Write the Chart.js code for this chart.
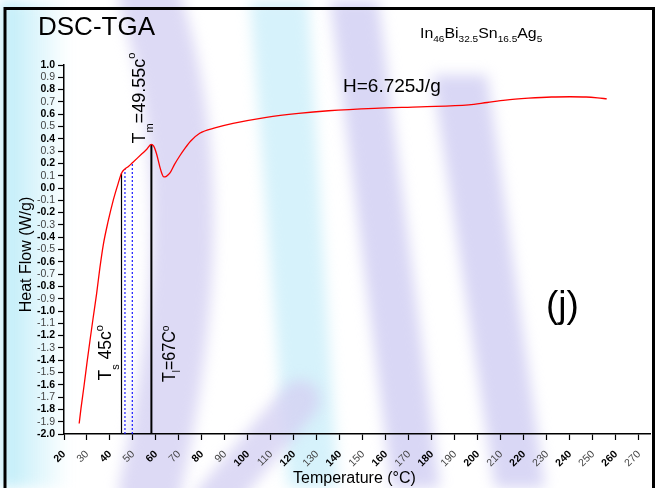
<!DOCTYPE html>
<html>
<head>
<meta charset="utf-8">
<script src="https://cdn.jsdelivr.net/npm/chart.js@4.4.0/dist/chart.umd.min.js"></script>
<style>
  html, body { margin: 0; padding: 0; background: #fff; }
  #c { display: block; }
</style>
</head>
<body>
<canvas id="c" width="656" height="488"></canvas>
<script>
// DSC curve: temperature (°C) and heat flow (W/g)
var tempC = [26.6, 27.4, 28.7, 30.0, 31.3, 32.6, 34.2, 35.6, 37.1, 39.2, 41.4, 43.6, 45.0, 46.5, 48.0,
    50.0, 52.0, 54.0, 56.0, 57.9, 59.0, 60.2, 61.7, 62.6, 63.4, 64.5, 66.0, 68.0, 70.3, 72.5,
    75.0, 79.0, 86.0, 93.5, 108, 122, 135, 155, 175, 196, 204, 212, 222, 232, 240, 247, 252, 256];
var heatFlow = [-1.915, -1.79, -1.61, -1.42, -1.24, -1.065, -0.856, -0.65, -0.46, -0.27, -0.10, 0.04, 0.12, 0.155, 0.175,
    0.21, 0.245, 0.28, 0.315, 0.355, 0.34, 0.28, 0.17, 0.115, 0.09, 0.095, 0.12, 0.19, 0.26, 0.32,
    0.38, 0.445, 0.49, 0.525, 0.575, 0.607, 0.628, 0.648, 0.66, 0.675, 0.695, 0.715, 0.73, 0.74, 0.742, 0.74, 0.733, 0.725];

// vertical markers: solidus, two dotted guides, melting peak
var markerTemps = [45.0, 46.5, 49.7, 58.0];
var markerTops = [0.12, 0.155, 0.205, 0.355];
var markerBase = -2.0;

var xTicks = [20, 30, 40, 50, 60, 70, 80, 90, 100, 110, 120, 130, 140, 150, 160, 170, 180, 190, 200, 210, 220, 230, 240, 250, 260, 270];
var yTicks = [-2.0, -1.9, -1.8, -1.7, -1.6, -1.5, -1.4, -1.3, -1.2, -1.1, -1.0, -0.9, -0.8, -0.7, -0.6, -0.5, -0.4, -0.3, -0.2, -0.1,
    0.0, 0.1, 0.2, 0.3, 0.4, 0.5, 0.6, 0.7, 0.8, 0.9, 1.0];

var FONT = 'Arial, "Liberation Sans", sans-serif';

function pts(xs, ys) {
    return xs.map(function (x, i) { return { x: x, y: ys[i] }; });
}

function markerLine(i, color, width, dash) {
    return {
        data: [{ x: markerTemps[i], y: markerBase }, { x: markerTemps[i], y: markerTops[i] }],
        borderColor: color, borderWidth: width, borderDash: dash, pointRadius: 0, tension: 0
    };
}

function richText(ctx, x, y, angle, sx, parts) {
    ctx.save();
    ctx.translate(x, y);
    ctx.rotate(angle);
    ctx.scale(sx, 1);
    ctx.textAlign = 'left';
    ctx.textBaseline = 'alphabetic';
    ctx.fillStyle = '#000';
    var cx = 0;
    parts.forEach(function (p) {
        ctx.font = p.s + 'px ' + FONT;
        ctx.fillText(p.t, cx, p.dy || 0);
        cx += ctx.measureText(p.t).width;
    });
    ctx.restore();
}

function poly(ctx, p, color) {
    ctx.fillStyle = color;
    ctx.beginPath();
    ctx.moveTo(p[0][0], p[0][1]);
    for (var i = 1; i < p.length; i++) ctx.lineTo(p[i][0], p[i][1]);
    ctx.closePath();
    ctx.fill();
}

// faint watermark that sits behind the original figure
var backdrop = {
    id: 'backdrop',
    beforeDraw: function (chart) {
        var ctx = chart.ctx;
        ctx.save();
        ctx.fillStyle = '#fff';
        ctx.fillRect(0, 0, chart.width, chart.height);
        ctx.filter = 'blur(7px)';
        var g = ctx.createLinearGradient(5, 0, 70, 0);
        g.addColorStop(0, 'rgba(185,235,248,0.9)');
        g.addColorStop(1, 'rgba(185,235,248,0)');
        ctx.fillStyle = g;
        ctx.fillRect(0, 0, 70, 488);
        poly(ctx, [[250, 0], [308, 0], [338, 488], [288, 488]], 'rgba(200,238,250,0.75)');
        poly(ctx, [[330, 0], [378, 0], [440, 488], [392, 488]], 'rgba(208,205,242,0.8)');
        poly(ctx, [[432, 75], [487, 75], [545, 488], [495, 488]], 'rgba(208,205,242,0.8)');
        ctx.strokeStyle = 'rgba(212,209,243,0.8)';
        ctx.lineWidth = 62;
        ctx.lineCap = 'round';
        ctx.beginPath();
        ctx.moveTo(150, 0);
        ctx.quadraticCurveTo(215, 200, 150, 488);
        ctx.stroke();
        ctx.lineWidth = 40;
        ctx.beginPath();
        ctx.moveTo(215, 500);
        ctx.lineTo(300, 400);
        ctx.stroke();
        ctx.restore();
    }
};

var notes = {
    id: 'notes',
    afterDraw: function (chart) {
        var ctx = chart.ctx;
        var up = -Math.PI / 2;
        richText(ctx, 38, 35, 0, 1.0, [{ t: 'DSC-TGA', s: 26 }]);
        richText(ctx, 420, 37.5, 0, 1.06, [
            { t: 'In', s: 15 }, { t: '46', s: 9.5, dy: 4.5 },
            { t: 'Bi', s: 15 }, { t: '32.5', s: 9.5, dy: 4.5 },
            { t: 'Sn', s: 15 }, { t: '16.5', s: 9.5, dy: 4.5 },
            { t: 'Ag', s: 15 }, { t: '5', s: 9.5, dy: 4.5 }
        ]);
        richText(ctx, 343, 92, 0, 1.0, [{ t: 'H=6.725J/g', s: 19 }]);
        richText(ctx, 546, 317, 0, 1.0, [{ t: '(j)', s: 37 }]);
        richText(ctx, 145, 143.5, up, 1.0, [
            { t: 'T', s: 18 }, { t: 'm', s: 11, dy: 8 }, { t: '=49.55c', s: 18 }, { t: 'o', s: 11, dy: -10 }
        ]);
        richText(ctx, 110.5, 380.5, up, 1.0, [
            { t: 'T', s: 17.5 }, { t: 's', s: 11, dy: 8 }, { t: ' 45c', s: 17.5 }, { t: 'o', s: 11, dy: -8 }
        ]);
        richText(ctx, 175, 382, up, 0.92, [
            { t: 'T', s: 17.5 }, { t: 'l', s: 10, dy: 5 }, { t: '=67C', s: 17.5 }, { t: 'o', s: 11, dy: -6 }
        ]);
        var area = chart.chartArea;
        var midY = (area.top + area.bottom) / 2 + 5;
        ctx.save();
        ctx.fillStyle = '#000';
        ctx.font = '16px ' + FONT;
        ctx.textAlign = 'center';
        ctx.textBaseline = 'alphabetic';
        ctx.translate(31, midY);
        ctx.rotate(up);
        ctx.fillText('Heat Flow (W/g)', 0, 0);
        ctx.restore();
        ctx.save();
        ctx.fillStyle = '#000';
        ctx.font = '16px ' + FONT;
        ctx.textAlign = 'left';
        ctx.fillText('Temperature (°C)', 293, 483);
        // outer frame of the figure panel
        ctx.strokeStyle = '#000';
        ctx.lineWidth = 3;
        ctx.beginPath();
        ctx.moveTo(5, 488);
        ctx.lineTo(5, 8.5);
        ctx.lineTo(653.5, 8.5);
        ctx.lineTo(653.5, 488);
        ctx.stroke();
        ctx.restore();
    }
};

function tickFont(c) {
    return { family: FONT, size: 10.5, weight: c.index % 2 ? 'normal' : 'bold' };
}
function tickColor(c) {
    return c.index % 2 ? '#444' : '#000';
}

new Chart(document.getElementById('c'), {
    type: 'line',
    data: {
        datasets: [
            {
                data: pts(tempC, heatFlow),
                borderColor: '#ff0000', borderWidth: 1.3, pointRadius: 0,
                cubicInterpolationMode: 'monotone'
            },
            markerLine(0, '#000', 1.2, []),
            markerLine(1, '#1a1aff', 1.2, [2, 2]),
            markerLine(2, '#1a1aff', 1.2, [2, 2]),
            markerLine(3, '#000', 2, [])
        ]
    },
    options: {
        responsive: false,
        animation: false,
        devicePixelRatio: 1,
        layout: { padding: { left: 0, top: 65, right: 6, bottom: 0 } },
        plugins: { legend: { display: false }, tooltip: { enabled: false }, title: { display: false } },
        scales: {
            x: {
                type: 'linear',
                min: 20,
                max: 274.8,
                afterBuildTicks: function (s) { s.ticks = xTicks.map(function (v) { return { value: v }; }); },
                afterFit: function (s) { s.height = 54; },
                ticks: {
                    autoSkip: false, minRotation: 45, maxRotation: 45, padding: 8,
                    font: tickFont, color: tickColor,
                    callback: function (v) { return String(v); }
                },
                grid: { drawOnChartArea: false, drawTicks: true, tickLength: 6, tickColor: '#000', tickWidth: 1.2 },
                border: { display: true, color: '#000', width: 1.5 }
            },
            y: {
                type: 'linear',
                min: -2.0,
                max: 1.0,
                afterBuildTicks: function (s) { s.ticks = yTicks.map(function (v) { return { value: v }; }); },
                afterFit: function (s) { s.width = 64; },
                ticks: {
                    autoSkip: false, padding: 3,
                    font: tickFont, color: tickColor,
                    callback: function (v) { return v.toFixed(1); }
                },
                grid: { drawOnChartArea: false, drawTicks: true, tickLength: 6, tickColor: '#000', tickWidth: 1.2 },
                border: { display: true, color: '#000', width: 1.5 }
            }
        }
    },
    plugins: [backdrop, notes]
});
</script>
</body>
</html>
